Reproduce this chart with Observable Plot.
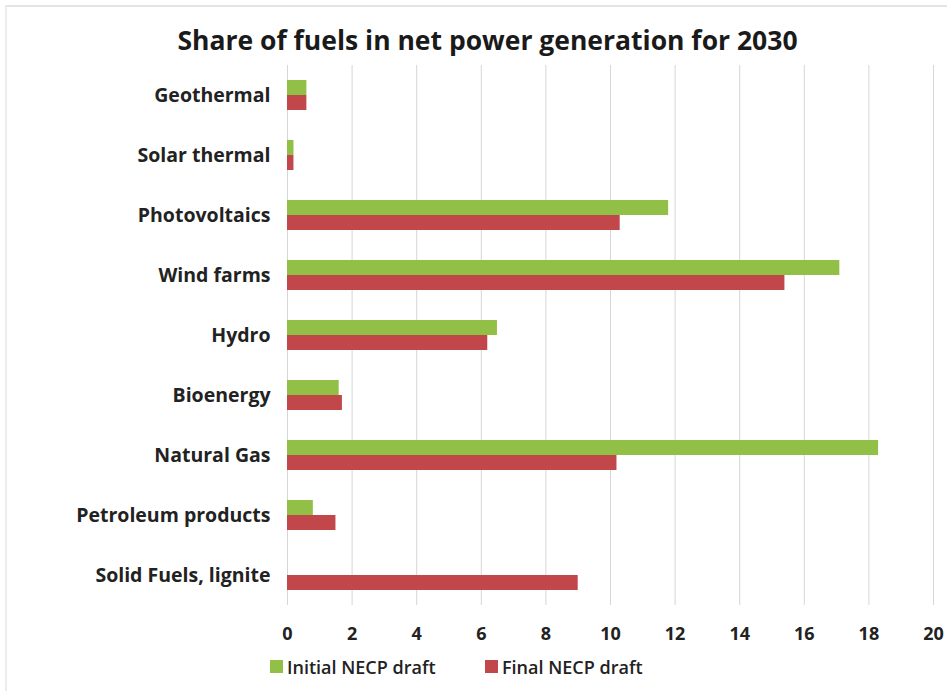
<!DOCTYPE html>
<html>
<head>
<meta charset="utf-8">
<script src="https://cdn.jsdelivr.net/npm/d3@7"></script>
<script src="https://cdn.jsdelivr.net/npm/@observablehq/plot@0.6"></script>
<style>
  html, body { margin: 0; padding: 0; background: #fff; }
  #frame { position: absolute; left: 5px; top: 5px; width: 960px; height: 700px; border-top: 2px solid #e4e4e4; border-left: 2px solid #ececec; z-index: 5; pointer-events: none; }
  #wrap { position: absolute; left: 0; top: 0; width: 947px; }
  #title { height: 65px; line-height: 80px; text-align: center; padding-left: 28px; box-sizing: border-box;
           font-family: "Open Sans", sans-serif; font-weight: 700; font-size: 26.5px; color: #1a1a1a; }
  #legend { padding-left: 270px; margin-top: 0px; }
  .lg-swatch { min-width: 215px; margin-right: 0 !important; }
  .lg-swatch svg { margin-right: 4px !important; }
</style>
</head>
<body>
<div id="wrap">
  <div id="title">Share of fuels in net power generation for 2030</div>
  <div id="chart"></div>
  <div id="legend"></div>
</div>
<div id="frame"></div>
<script>
const categories = ["Geothermal", "Solar thermal", "Photovoltaics", "Wind farms", "Hydro", "Bioenergy", "Natural Gas", "Petroleum products", "Solid Fuels, lignite"];
const initialDraft = [0.6, 0.2, 11.8, 17.1, 6.5, 1.6, 18.3, 0.8, 0];
const finalDraft = [0.6, 0.2, 10.3, 15.4, 6.2, 1.7, 10.2, 1.5, 9.0];
const seriesNames = ["Initial NECP draft", "Final NECP draft"];
const seriesColors = ["#92bf45", "#c2474a"];
const xTicks = [0, 2, 4, 6, 8, 10, 12, 14, 16, 18, 20];

const initialRows = categories.map((c, i) => ({category: c, series: seriesNames[0], value: initialDraft[i]}));
const finalRows = categories.map((c, i) => ({category: c, series: seriesNames[1], value: finalDraft[i]}));

const chart = Plot.plot({
  width: 947,
  height: 585,
  marginTop: 0,
  marginBottom: 45,
  marginLeft: 287,
  marginRight: 14,
  style: {fontFamily: "'Open Sans', sans-serif", fontSize: "15px", color: "#222", background: "#fff"},
  x: {domain: [0, 20], ticks: xTicks, label: null, tickSize: 0, tickPadding: 22},
  y: {domain: categories, padding: 0, label: null, tickSize: 0, tickPadding: 17},
  color: {domain: seriesNames, range: seriesColors},
  marks: [
    Plot.gridX(xTicks, {stroke: "#d6d6d6", strokeOpacity: 1, strokeWidth: 1}),
    Plot.barX(initialRows, {x: "value", y: "category", fill: "series", insetTop: 15, insetBottom: 30}),
    Plot.barX(finalRows, {x: "value", y: "category", fill: "series", insetTop: 30, insetBottom: 15}),
    Plot.axisX({ticks: xTicks, tickSize: 0, tickPadding: 22, fontWeight: 700, fontSize: 18, fill: "#222", label: null}),
    Plot.axisY({tickSize: 0, tickPadding: 17, fontWeight: 700, fontSize: 19.5, fill: "#222", label: null})
  ]
});
document.getElementById("chart").appendChild(chart);

const legend = chart.legend("color", {
  swatchSize: 13,
  className: "lg",
  style: {fontFamily: "'Open Sans', sans-serif", fontSize: "18px", fontWeight: 600, color: "#222"}
});
document.getElementById("legend").appendChild(legend);
</script>
</body>
</html>
